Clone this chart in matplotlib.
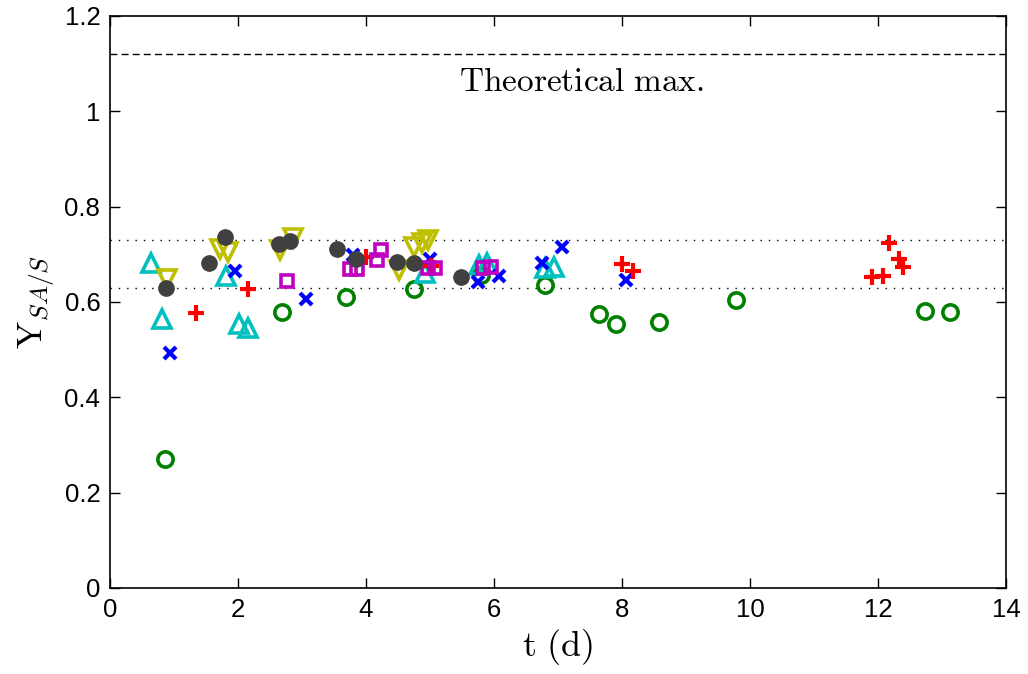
import matplotlib
matplotlib.use("Agg")
import matplotlib.pyplot as plt

plt.rcParams['font.family'] = ['Liberation Sans', 'DejaVu Sans']
plt.rcParams['mathtext.fontset'] = 'cm'

# Series data (t in days, yield)
green_t = [0.86, 2.69, 3.69, 4.75, 5.80, 6.80, 7.64, 7.91, 8.58, 9.78, 12.73, 13.13]
green_y = [0.270, 0.579, 0.610, 0.627, 0.657, 0.636, 0.575, 0.554, 0.558, 0.604, 0.581, 0.579]

cyan_t = [0.64, 0.81, 1.81, 2.02, 2.16, 4.92, 5.77, 5.89, 6.80, 6.93]
cyan_y = [0.682, 0.564, 0.655, 0.554, 0.545, 0.660, 0.678, 0.681, 0.671, 0.674]

blue_t = [0.93, 1.95, 3.06, 3.80, 5.00, 5.75, 6.08, 6.75, 7.06, 8.06]
blue_y = [0.493, 0.666, 0.606, 0.698, 0.690, 0.642, 0.654, 0.682, 0.715, 0.646]

red_t = [1.34, 2.16, 4.00, 5.02, 8.00, 8.17, 11.90, 12.08, 12.17, 12.33, 12.39]
red_y = [0.577, 0.627, 0.694, 0.675, 0.680, 0.665, 0.652, 0.654, 0.723, 0.691, 0.673]

olive_t = [0.89, 1.72, 1.85, 2.66, 2.86, 4.52, 4.75, 4.87, 4.97]
olive_y = [0.648, 0.711, 0.705, 0.709, 0.734, 0.667, 0.716, 0.723, 0.731]

magenta_t = [2.76, 3.75, 3.86, 4.17, 4.23, 4.97, 5.08, 5.83, 5.95]
magenta_y = [0.645, 0.669, 0.670, 0.688, 0.709, 0.672, 0.672, 0.671, 0.674]

gray_t = [0.87, 1.54, 1.79, 2.64, 2.81, 3.54, 3.85, 4.48, 4.75, 5.49]
gray_y = [0.630, 0.682, 0.736, 0.722, 0.727, 0.711, 0.690, 0.683, 0.681, 0.652]

theoretical_max = 1.12
band_low, band_high = 0.63, 0.73

x_ticks = [0, 2, 4, 6, 8, 10, 12, 14]
y_ticks = [0, 0.2, 0.4, 0.6, 0.8, 1.0, 1.2]
y_ticklabels = ['0', '0.2', '0.4', '0.6', '0.8', '1', '1.2']

fig = plt.figure(figsize=(10.28, 6.74), dpi=100)
ax = fig.add_axes([0.107, 0.1276, 0.8716, 0.8487])

ax.axhline(theoretical_max, color='black', linestyle=(0, (5, 3)), linewidth=1.0, zorder=1)
ax.axhline(band_high, color='black', linestyle=(0, (1, 5)), linewidth=1.0, zorder=1)
ax.axhline(band_low, color='black', linestyle=(0, (1, 5)), linewidth=1.0, zorder=1)

ax.plot(green_t, green_y, linestyle='none', marker='o', markersize=11, markerfacecolor='none',
        markeredgecolor='#008000', markeredgewidth=2.6, zorder=3)
ax.plot(cyan_t, cyan_y, linestyle='none', marker='^', markersize=13, markerfacecolor='none',
        markeredgecolor='#00bfbf', markeredgewidth=2.6, zorder=3)
ax.plot(blue_t, blue_y, linestyle='none', marker='x', markersize=8, markerfacecolor='none',
        markeredgecolor='#0000ff', markeredgewidth=3.0, zorder=3)
ax.plot(red_t, red_y, linestyle='none', marker='+', markersize=11, markerfacecolor='none',
        markeredgecolor='#ff0000', markeredgewidth=3.0, zorder=3)
ax.plot(olive_t, olive_y, linestyle='none', marker='v', markersize=13, markerfacecolor='none',
        markeredgecolor='#bfbf00', markeredgewidth=2.6, zorder=3)
ax.plot(magenta_t, magenta_y, linestyle='none', marker='s', markersize=9, markerfacecolor='none',
        markeredgecolor='#bf00bf', markeredgewidth=2.6, zorder=3)
ax.plot(gray_t, gray_y, linestyle='none', marker='o', markersize=11, markerfacecolor='#404040',
        markeredgecolor='#404040', markeredgewidth=1.0, zorder=4)

ax.text(7.37, 1.06, r'$\mathrm{Theoretical\ max.}$', ha='center', va='center', fontsize=24)

ax.set_xlim(0, 14)
ax.set_ylim(0, 1.2)
ax.set_xticks(x_ticks)
ax.set_yticks(y_ticks)
ax.set_yticklabels(y_ticklabels)
ax.tick_params(direction='in', top=True, right=True, labelsize=18.5, length=7, width=1.0, pad=7)
for s in ax.spines.values():
    s.set_linewidth(1.2)

ax.set_xlabel(r'$\mathrm{t\ (d)}$', fontsize=26, labelpad=4)
ax.set_ylabel(r'$\mathrm{Y}_{SA/S}$', fontsize=26, labelpad=6)

fig.savefig('out.png', dpi=100)
